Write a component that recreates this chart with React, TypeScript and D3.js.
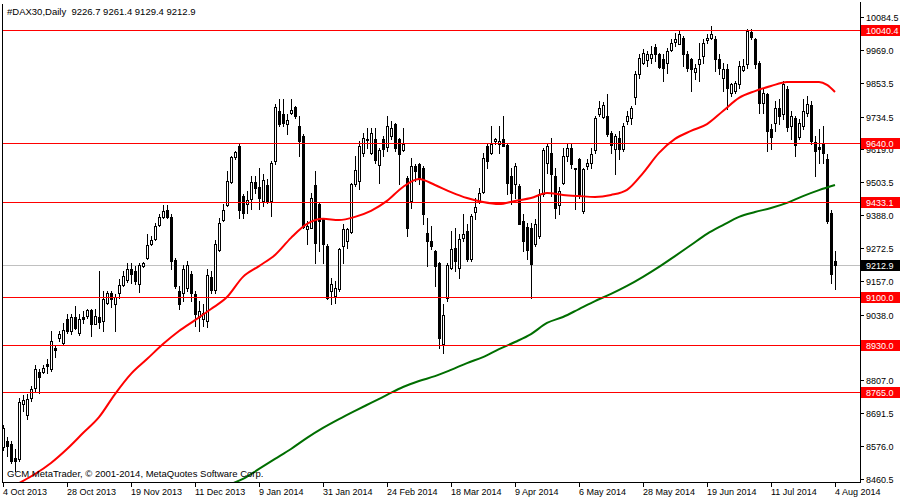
import React from 'react';
import * as d3 from 'd3';

const titleText = '#DAX30,Daily  9226.7 9261.4 9129.4 9212.9';
const copyrightText = 'GCM MetaTrader, © 2001-2014, MetaQuotes Software Corp.';

const dateLabels = ['4 Oct 2013', '28 Oct 2013', '19 Nov 2013', '11 Dec 2013', '9 Jan 2014', '31 Jan 2014', '24 Feb 2014', '18 Mar 2014', '9 Apr 2014', '6 May 2014', '28 May 2014', '19 Jun 2014', '11 Jul 2014', '4 Aug 2014'];
const barsPerLabel = 16;

const priceTicks = [10084.5, 9969.0, 9853.5, 9734.5, 9619.0, 9503.5, 9388.0, 9272.5, 9157.0, 9038.0, 8807.0, 8691.5, 8576.0, 8460.5];
const levelLines = [10040.4, 9640.0, 9433.1, 9100.0, 8930.0, 8765.0];
const lastPrice = 9212.9;

const opens = [8573, 8594, 8584, 8534, 8531, 8724, 8686, 8745, 8780, 8837, 8837, 8865, 8847, 8921, 8956, 8939, 9023, 8981, 9030, 8974, 9030, 9034, 9055, 9005, 9030, 9016, 9079, 9114, 9076, 9114, 9143, 9160, 9199, 9192, 9146, 9209, 9237, 9287, 9304, 9353, 9382, 9406, 9382, 9230, 9122, 9114, 9132, 9181, 9111, 9030, 9023, 9016, 9171, 9125, 9266, 9371, 9424, 9505, 9593, 9631, 9455, 9427, 9445, 9505, 9487, 9438, 9494, 9438, 9578, 9754, 9744, 9708, 9747, 9768, 9701, 9666, 9339, 9343, 9494, 9427, 9378, 9280, 9122, 9104, 9129, 9280, 9297, 9329, 9498, 9508, 9607, 9656, 9607, 9656, 9564, 9656, 9628, 9666, 9708, 9656, 9617, 9519, 9438, 9561, 9568, 9554, 9325, 9297, 9262, 9220, 8935, 9097, 9202, 9273, 9202, 9308, 9332, 9234, 9399, 9438, 9469, 9631, 9607, 9649, 9638, 9656, 9635, 9526, 9498, 9491, 9368, 9346, 9343, 9287, 9315, 9462, 9571, 9607, 9526, 9424, 9501, 9596, 9624, 9554, 9585, 9403, 9561, 9571, 9617, 9744, 9733, 9737, 9677, 9621, 9659, 9621, 9719, 9730, 9803, 9884, 9923, 9933, 9940, 9979, 9955, 9937, 9923, 9969, 9997, 9990, 10011, 9955, 9937, 9891, 9919, 9948, 10004, 10011, 10007, 9937, 9870, 9902, 9817, 9824, 9849, 9898, 9919, 10032, 10007, 9923, 9782, 9814, 9691, 9712, 9765, 9744, 9832, 9701, 9730, 9663, 9701, 9747, 9775, 9645, 9628, 9642, 9585, 9396, 9226.7];
const highs = [8650, 8608, 8594, 8566, 8745, 8756, 8759, 8788, 8861, 8847, 8861, 8882, 8981, 8928, 8981, 9009, 9041, 9041, 9069, 9041, 9051, 9058, 9058, 9058, 9192, 9122, 9122, 9122, 9111, 9164, 9192, 9220, 9220, 9209, 9220, 9223, 9322, 9315, 9360, 9392, 9424, 9424, 9392, 9237, 9139, 9213, 9227, 9192, 9122, 9086, 9076, 9199, 9192, 9301, 9378, 9427, 9543, 9596, 9614, 9638, 9462, 9473, 9526, 9526, 9554, 9533, 9515, 9578, 9779, 9796, 9796, 9744, 9796, 9772, 9737, 9673, 9368, 9466, 9543, 9431, 9378, 9287, 9167, 9157, 9273, 9357, 9343, 9501, 9596, 9649, 9677, 9694, 9694, 9694, 9624, 9666, 9737, 9719, 9712, 9659, 9694, 9526, 9589, 9568, 9571, 9561, 9378, 9350, 9266, 9223, 9076, 9220, 9332, 9343, 9322, 9392, 9357, 9392, 9448, 9484, 9607, 9638, 9701, 9659, 9701, 9737, 9638, 9554, 9571, 9498, 9392, 9361, 9361, 9375, 9480, 9624, 9638, 9659, 9554, 9487, 9624, 9638, 9638, 9554, 9589, 9554, 9585, 9624, 9737, 9789, 9786, 9814, 9684, 9673, 9684, 9712, 9754, 9772, 9895, 9955, 9972, 9965, 9983, 9990, 9958, 9955, 9976, 10007, 10028, 10035, 10018, 9965, 9940, 9919, 9993, 10007, 10025, 10053, 10018, 9955, 9923, 9919, 9853, 9860, 9930, 9937, 10042, 10042, 10011, 9930, 9832, 9817, 9708, 9789, 9796, 9860, 9842, 9754, 9737, 9726, 9796, 9807, 9789, 9666, 9691, 9701, 9603, 9406, 9261.4];
const lows = [8563, 8542, 8517, 8489, 8524, 8700, 8672, 8735, 8770, 8763, 8833, 8833, 8840, 8890, 8946, 8932, 8974, 8970, 8988, 8967, 9009, 9027, 8963, 9005, 8991, 8981, 9076, 9065, 8981, 9097, 9139, 9153, 9150, 9146, 9118, 9206, 9234, 9283, 9301, 9350, 9378, 9378, 9199, 9132, 9058, 9086, 9122, 9086, 8998, 8981, 8998, 8995, 9114, 9114, 9262, 9368, 9420, 9501, 9585, 9378, 9378, 9396, 9410, 9466, 9410, 9420, 9431, 9385, 9568, 9701, 9701, 9673, 9744, 9730, 9596, 9343, 9287, 9343, 9220, 9262, 9220, 9093, 9076, 9079, 9122, 9220, 9273, 9325, 9491, 9480, 9596, 9624, 9603, 9571, 9501, 9596, 9614, 9656, 9614, 9498, 9614, 9315, 9413, 9508, 9498, 9357, 9209, 9269, 9139, 8921, 8904, 9086, 9199, 9192, 9167, 9297, 9227, 9227, 9375, 9431, 9466, 9554, 9603, 9638, 9607, 9631, 9462, 9427, 9448, 9357, 9262, 9234, 9097, 9280, 9308, 9455, 9536, 9455, 9378, 9392, 9498, 9578, 9554, 9410, 9448, 9396, 9550, 9554, 9607, 9737, 9730, 9666, 9607, 9533, 9585, 9614, 9708, 9708, 9779, 9870, 9919, 9912, 9923, 9930, 9905, 9860, 9888, 9965, 9983, 9990, 9912, 9895, 9824, 9867, 9860, 9923, 9993, 10007, 9895, 9884, 9824, 9761, 9807, 9817, 9835, 9895, 9905, 10007, 9905, 9747, 9747, 9614, 9621, 9684, 9708, 9726, 9684, 9656, 9596, 9656, 9691, 9737, 9638, 9526, 9571, 9571, 9361, 9150, 9129.4];
const closes = [8640, 8577, 8524, 8524, 8731, 8738, 8742, 8777, 8847, 8819, 8851, 8858, 8946, 8914, 8970, 8984, 8981, 9030, 8991, 9023, 9023, 9055, 9005, 9034, 9013, 9093, 9114, 9093, 9100, 9143, 9174, 9199, 9181, 9157, 9213, 9220, 9283, 9301, 9350, 9382, 9403, 9382, 9227, 9139, 9076, 9199, 9213, 9114, 9041, 9051, 9044, 9178, 9125, 9287, 9361, 9406, 9508, 9593, 9610, 9406, 9396, 9441, 9505, 9484, 9448, 9512, 9438, 9571, 9768, 9708, 9712, 9723, 9758, 9737, 9649, 9346, 9350, 9448, 9290, 9368, 9287, 9097, 9146, 9132, 9269, 9339, 9339, 9498, 9547, 9631, 9659, 9652, 9677, 9582, 9617, 9621, 9701, 9694, 9624, 9603, 9638, 9343, 9561, 9543, 9519, 9392, 9297, 9280, 9209, 8956, 9037, 9213, 9269, 9227, 9304, 9322, 9234, 9385, 9417, 9466, 9589, 9578, 9638, 9656, 9649, 9631, 9501, 9466, 9561, 9357, 9297, 9266, 9216, 9357, 9462, 9617, 9631, 9533, 9413, 9473, 9596, 9624, 9568, 9550, 9455, 9550, 9571, 9603, 9730, 9765, 9775, 9673, 9635, 9666, 9621, 9701, 9737, 9765, 9884, 9940, 9958, 9955, 9955, 9955, 9909, 9905, 9965, 9993, 10007, 10025, 9955, 9905, 9902, 9905, 9937, 9993, 10011, 10025, 9937, 9905, 9902, 9835, 9849, 9853, 9912, 9912, 10035, 10014, 9919, 9782, 9817, 9684, 9663, 9765, 9737, 9849, 9698, 9737, 9635, 9712, 9754, 9779, 9649, 9614, 9621, 9607, 9368, 9181, 9212.9];

// Moving averages (bar index -> value)
const redMaBars = [4, 8, 12, 16, 20, 24, 28, 32, 36, 40, 44, 48, 52, 56, 60, 64, 68, 72, 76, 80, 84, 88, 92, 96, 100, 104, 108, 112, 116, 120, 124, 128, 132, 136, 140, 144, 148, 152, 156, 160, 164, 168, 172, 176, 180, 184, 188, 192, 196, 200, 204, 206, 208];
const redMaValues = [8446, 8478, 8517, 8566, 8622, 8678, 8759, 8830, 8882, 8935, 8981, 9019, 9058, 9100, 9171, 9209, 9248, 9308, 9357, 9375, 9371, 9382, 9403, 9438, 9487, 9515, 9494, 9469, 9448, 9434, 9427, 9438, 9448, 9466, 9459, 9455, 9452, 9459, 9477, 9536, 9607, 9656, 9684, 9708, 9754, 9800, 9824, 9842, 9856, 9856, 9856, 9846, 9821];
const greenMaBars = [57, 60, 64, 68, 72, 76, 80, 84, 88, 92, 96, 100, 104, 108, 112, 116, 120, 124, 128, 132, 136, 140, 144, 148, 152, 156, 160, 164, 168, 172, 176, 180, 184, 188, 192, 196, 200, 204, 208];
const greenMaValues = [8443, 8461, 8496, 8531, 8566, 8605, 8640, 8671, 8700, 8728, 8756, 8784, 8805, 8822, 8844, 8868, 8889, 8917, 8942, 8970, 9009, 9030, 9058, 9086, 9111, 9139, 9171, 9206, 9244, 9283, 9322, 9353, 9382, 9399, 9413, 9431, 9455, 9476, 9494];

const W = 900;
const H = 500;
const plotLeft = 2;
const plotRight = 860;
const plotTop = 4;
const plotBottom = 482;
const FONT = "'Liberation Sans', Arial, sans-serif";

export default function App() {
  const n = opens.length;
  const x = d3.scaleLinear().domain([0, n - 1]).range([3, 835]);
  const y = d3.scaleLinear().domain([8460.5, 10084.5]).range([479, 17]);
  const cx = (i: number) => Math.round(x(i));
  const ry = (v: number) => Math.round(y(v));

  const redLine = d3.line<number>()
    .x((_, k) => x(redMaBars[k]))
    .y((d) => y(d))
    .curve(d3.curveMonotoneX)(redMaValues) || '';
  const greenLine = d3.line<number>()
    .x((_, k) => x(greenMaBars[k]))
    .y((d) => y(d))
    .curve(d3.curveMonotoneX)(greenMaValues) || '';

  const candles = opens.map((o, i) => {
    const c = closes[i];
    const hi = highs[i];
    const lo = lows[i];
    const px = cx(i);
    const top = ry(Math.max(o, c));
    const bot = ry(Math.min(o, c));
    const h = Math.max(1, bot - top + 1);
    const bull = c > o;
    return (
      <g key={i}>
        <rect x={px} y={ry(hi)} width={1} height={Math.max(1, ry(lo) - ry(hi) + 1)} fill="#000" />
        <rect x={px - 1} y={top} width={3} height={h} fill="#000" />
        {bull && h > 2 ? <rect x={px} y={top + 1} width={1} height={h - 2} fill="#fff" /> : null}
      </g>
    );
  });

  return (
    <svg width={W} height={H} style={{ position: 'absolute', left: 0, top: 0, background: '#fff' }} shapeRendering="crispEdges">
      <defs>
        <clipPath id="plotClip">
          <rect x={plotLeft + 1} y={plotTop} width={plotRight - plotLeft - 1} height={plotBottom - plotTop} />
        </clipPath>
      </defs>
      <rect x={0} y={0} width={W} height={H} fill="#fff" />
      {/* last price line */}
      <rect x={plotLeft} y={ry(lastPrice)} width={plotRight - plotLeft} height={1} fill="#c0c0c0" />
      <g clipPath="url(#plotClip)">{candles}</g>
      <g clipPath="url(#plotClip)" shapeRendering="auto">
        <path d={redLine} fill="none" stroke="#ff0000" strokeWidth={2} />
        <path d={greenLine} fill="none" stroke="#006e00" strokeWidth={2} />
      </g>
      {levelLines.map((v) => (
        <rect key={'l' + v} x={plotLeft} y={ry(v)} width={plotRight - plotLeft} height={1} fill="#ff0000" />
      ))}
      {/* frame */}
      <rect x={plotLeft} y={plotTop} width={1} height={plotBottom - plotTop + 1} fill="#000" />
      <rect x={plotRight} y={plotTop - 2} width={1} height={plotBottom - plotTop + 3} fill="#000" />
      <rect x={plotLeft} y={plotBottom} width={plotRight - plotLeft + 1} height={1} fill="#000" />
      {/* price axis */}
      {priceTicks.map((v) => (
        <g key={'t' + v}>
          <rect x={plotRight + 1} y={ry(v)} width={3} height={1} fill="#000" />
          <text x={866} y={ry(v) + 4} fontFamily={FONT} fontSize={9} fill="#000">{v.toFixed(1)}</text>
        </g>
      ))}
      {levelLines.map((v) => (
        <g key={'lb' + v}>
          <rect x={861} y={ry(v) - 5} width={39} height={11} fill="#ff0000" />
          <text x={866} y={ry(v) + 4} fontFamily={FONT} fontSize={9} fill="#fff">{v.toFixed(1)}</text>
        </g>
      ))}
      <rect x={861} y={ry(lastPrice) - 5} width={39} height={11} fill="#000" />
      <text x={866} y={ry(lastPrice) + 4} fontFamily={FONT} fontSize={9} fill="#fff">{lastPrice.toFixed(1)}</text>
      {/* time axis */}
      {dateLabels.map((lab, k) => {
        const px = cx(k * barsPerLabel);
        return (
          <g key={'d' + k}>
            <rect x={px} y={plotBottom + 1} width={1} height={4} fill="#000" />
            <text x={px} y={495} fontFamily={FONT} fontSize={9} fill="#000">{lab}</text>
          </g>
        );
      })}
      <text x={7} y={15} fontFamily={FONT} fontSize={9.5} fill="#000" style={{ whiteSpace: 'pre' }}>{titleText}</text>
      <text x={7} y={477} fontFamily={FONT} fontSize={9.5} fill="#000">{copyrightText}</text>
    </svg>
  );
}
